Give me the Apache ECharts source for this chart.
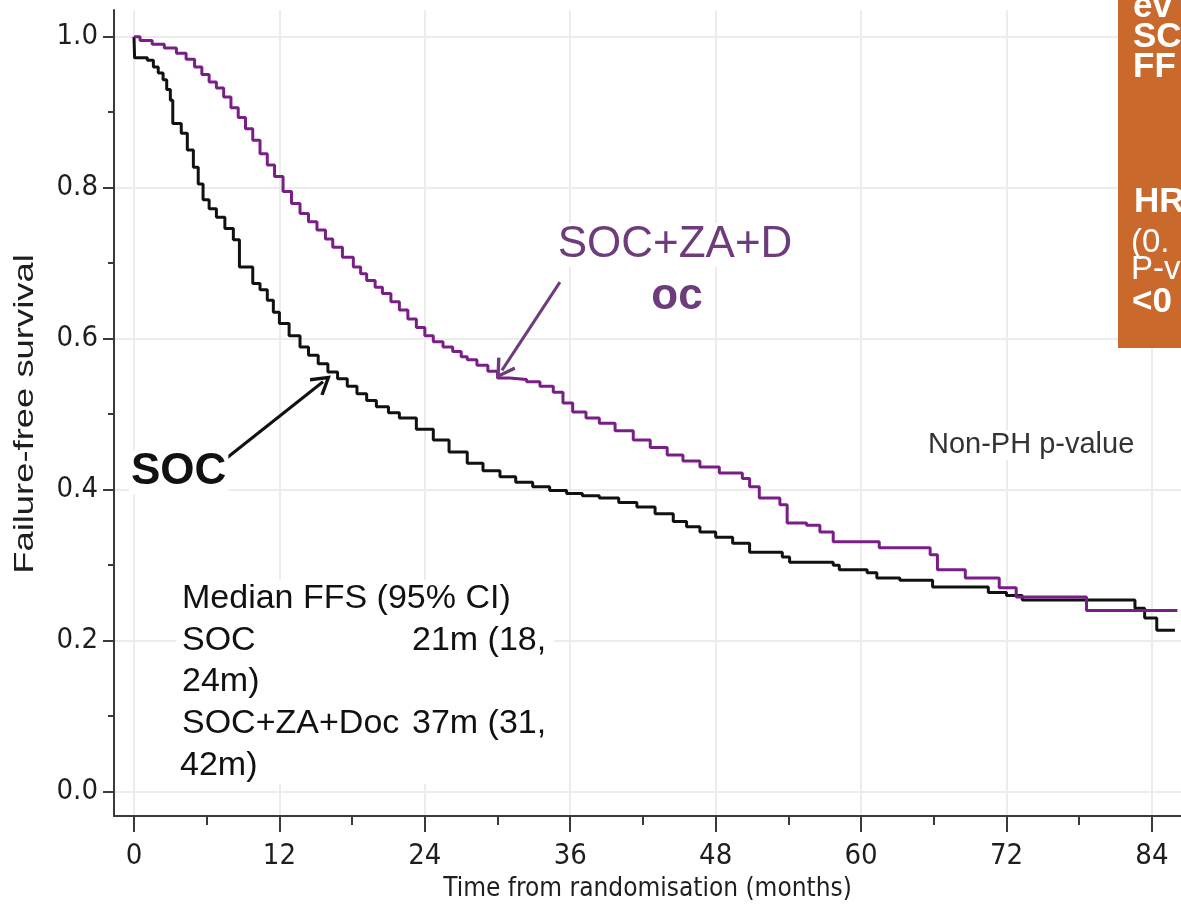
<!DOCTYPE html>
<html>
<head>
<meta charset="utf-8">
<title>Failure-free survival</title>
<script src="https://cdn.jsdelivr.net/npm/echarts@6/dist/echarts.min.js"></script>
<style>
  html, body { margin: 0; padding: 0; background: #ffffff; }
  #chart { width: 1181px; height: 910px; }
</style>
</head>
<body>
<div id="chart"></div>
<script>
// Kaplan-Meier estimates: time (months) and failure-free survival after each step
const socMonths = [0, 0.05, 1.1, 1.6, 2.0, 2.4, 2.7, 3.0, 3.2, 3.9, 4.4, 4.9, 5.3, 5.7, 6.2, 6.8, 7.5, 8.2, 8.7, 9.8,
  10.4, 11.0, 11.5, 12.0, 12.8, 13.7, 14.4, 15.2, 16.0, 16.8, 17.6, 18.4, 19.2, 20.0, 21.0, 21.9, 23.3, 24.7, 26.0,
  27.5, 28.8, 30.2, 31.5, 32.9, 34.3, 35.7, 37.0, 38.4, 40.0, 41.5, 43.0, 44.5, 45.6, 46.7, 48.0, 49.4, 50.8, 53.5,
  54.1, 57.7, 58.2, 60.5, 61.3, 63.2, 65.9, 70.5, 72.0, 73.3, 82.6, 83.4, 84.4, 85.9];
const socSurvival = [1.0, 0.972, 0.969, 0.960, 0.952, 0.943, 0.930, 0.916, 0.885, 0.872, 0.850, 0.827, 0.805, 0.784,
  0.772, 0.761, 0.746, 0.731, 0.695, 0.673, 0.665, 0.651, 0.635, 0.620, 0.604, 0.589, 0.578, 0.567, 0.556, 0.547,
  0.537, 0.527, 0.518, 0.510, 0.502, 0.495, 0.480, 0.466, 0.450, 0.435, 0.425, 0.417, 0.410, 0.404, 0.399, 0.395,
  0.392, 0.389, 0.383, 0.377, 0.368, 0.358, 0.351, 0.344, 0.337, 0.329, 0.317, 0.311, 0.304, 0.300, 0.294, 0.290,
  0.283, 0.280, 0.271, 0.264, 0.260, 0.254, 0.243, 0.230, 0.214, 0.214];

const docMonths = [0, 0.5, 1.5, 2.5, 3.5, 4.3, 5.0, 5.6, 6.2, 6.8, 7.4, 8.0, 8.6, 9.2, 9.8, 10.4, 11.0, 11.6, 12.3,
  13.0, 13.7, 14.4, 15.1, 15.8, 16.4, 17.2, 18.1, 18.7, 19.2, 19.9, 20.5, 21.2, 21.9, 22.6, 23.3, 24.0, 24.7, 25.5,
  26.3, 27.0, 27.5, 28.3, 29.2, 30.0, 31.0, 32.4, 33.5, 34.6, 35.4, 36.2, 37.3, 38.4, 39.7, 41.2, 42.6, 44.0, 45.3,
  46.7, 48.3, 50.2, 50.8, 51.6, 53.3, 53.9, 55.5, 56.6, 57.7, 61.5, 65.7, 66.3, 68.6, 71.4, 72.8, 78.6, 86.1];
const docSurvival = [1.0, 0.995, 0.990, 0.985, 0.978, 0.970, 0.960, 0.950, 0.940, 0.932, 0.920, 0.906, 0.893, 0.878,
  0.863, 0.845, 0.830, 0.815, 0.795, 0.779, 0.766, 0.755, 0.744, 0.732, 0.721, 0.708, 0.695, 0.686, 0.677, 0.668,
  0.660, 0.649, 0.638, 0.626, 0.615, 0.604, 0.596, 0.589, 0.583, 0.576, 0.572, 0.565, 0.557, 0.548, 0.546, 0.543,
  0.537, 0.529, 0.515, 0.503, 0.495, 0.488, 0.478, 0.466, 0.456, 0.446, 0.438, 0.430, 0.422, 0.415, 0.404, 0.389,
  0.380, 0.356, 0.353, 0.344, 0.331, 0.323, 0.314, 0.294, 0.283, 0.270, 0.258, 0.240, 0.240];

// Axis ticks
const xMajorTicks = [0, 12, 24, 36, 48, 60, 72, 84];
const xMinorTicks = [6, 18, 30, 42, 54, 66, 78];
const yMajorTicks = [0, 0.2, 0.4, 0.6, 0.8, 1.0];
const yMinorTicks = [0.1, 0.3, 0.5, 0.7, 0.9];

const zip = (xs, ys) => xs.map((x, i) => [x, ys[i]]);

const AXIS_COLOR = '#3a3a3a';
const GRID_COLOR = '#ececec';
const PURPLE = '#7a1e87';
const LABEL_PURPLE = '#6e3c7c';
const TICK_FONT = '"DejaVu Sans Condensed", "DejaVu Sans", sans-serif';
const TEXT_FONT = '"Liberation Sans", Arial, sans-serif';
const CHEVRON = 'path://M0,0 L12,17 L9,19 L0,6 L-9,19 L-12,17 Z';

const xRange = { min: -1.65, max: 86.4 };
const yRange = { min: -0.0322, max: 1.0354 };

// text placed on the plot, drawn over the grid on a white backing
function label(text, x, y, font, fill, align, extra) {
  return Object.assign({
    type: 'text', x: x, y: y, z: 50,
    style: { text: text, font: font, fill: fill, textAlign: align || 'left', textVerticalAlign: 'middle',
      backgroundColor: '#ffffff', padding: [0, 2] }
  }, extra || {});
}
function panelText(text, x, y, font) {
  return { type: 'text', x: x, y: y, z: 61,
    style: { text: text, font: font, fill: '#ffffff', textAlign: 'left', textVerticalAlign: 'middle' } };
}

const chart = echarts.init(document.getElementById('chart'), null, { renderer: 'canvas' });

chart.setOption({
  animation: false,
  backgroundColor: '#ffffff',
  grid: { left: 114, right: 0, top: 10, bottom: 94, containLabel: false },
  xAxis: [
    {
      type: 'value', gridIndex: 0, position: 'bottom', min: xRange.min, max: xRange.max,
      axisLine: { show: true, onZero: false, lineStyle: { color: AXIS_COLOR, width: 2 } },
      axisTick: { show: true, customValues: xMajorTicks, length: 16, lineStyle: { color: AXIS_COLOR, width: 2 } },
      axisLabel: { show: true, customValues: xMajorTicks, margin: 26, fontSize: 29,
        fontFamily: TICK_FONT, color: '#1e1e1e' },
      splitLine: { show: true, lineStyle: { color: GRID_COLOR, width: 2 } },
      name: 'Time from randomisation (months)', nameLocation: 'middle', nameGap: 51,
      nameTextStyle: { fontSize: 26, fontFamily: TICK_FONT, color: '#1e1e1e' }
    },
    {
      type: 'value', gridIndex: 0, position: 'bottom', min: xRange.min, max: xRange.max,
      axisLine: { show: false, onZero: false },
      axisTick: { show: true, customValues: xMinorTicks, length: 9, lineStyle: { color: AXIS_COLOR, width: 2 } },
      axisLabel: { show: false },
      splitLine: { show: false }
    }
  ],
  yAxis: [
    {
      type: 'value', gridIndex: 0, position: 'left', min: yRange.min, max: yRange.max,
      axisLine: { show: true, onZero: false, lineStyle: { color: AXIS_COLOR, width: 2 } },
      axisTick: { show: true, customValues: yMajorTicks, length: 11, lineStyle: { color: AXIS_COLOR, width: 2 } },
      axisLabel: { show: true, customValues: yMajorTicks, margin: 16, fontSize: 29,
        fontFamily: TICK_FONT, color: '#1e1e1e', formatter: v => v.toFixed(1) },
      splitLine: { show: true, lineStyle: { color: GRID_COLOR, width: 2 } }
    },
    {
      type: 'value', gridIndex: 0, position: 'left', min: yRange.min, max: yRange.max,
      axisLine: { show: false, onZero: false },
      axisTick: { show: true, customValues: yMinorTicks, length: 6, lineStyle: { color: AXIS_COLOR, width: 2 } },
      axisLabel: { show: false },
      splitLine: { show: false }
    }
  ],
  series: [
    {
      name: 'SOC', type: 'line', step: 'end', xAxisIndex: 0, yAxisIndex: 0,
      data: zip(socMonths, socSurvival), showSymbol: false, symbol: 'none',
      lineStyle: { color: '#111111', width: 3 }, z: 3,
      markLine: {
        silent: true, symbol: ['none', CHEVRON], symbolSize: [22, 20],
        label: { show: false },
        lineStyle: { color: '#111111', width: 3, type: 'solid' },
        data: [[{ coord: [7.26, 0.437] }, { coord: [15.6, 0.543] }]]
      }
    },
    {
      name: 'SOC+ZA+Doc', type: 'line', step: 'end', xAxisIndex: 0, yAxisIndex: 0,
      data: zip(docMonths, docSurvival), showSymbol: false, symbol: 'none',
      lineStyle: { color: PURPLE, width: 3 }, z: 4,
      markLine: {
        silent: true, symbol: ['none', CHEVRON], symbolSize: [22, 20],
        label: { show: false },
        lineStyle: { color: LABEL_PURPLE, width: 3, type: 'solid' },
        data: [[{ coord: [35.15, 0.675] }, { coord: [30.36, 0.558] }]]
      }
    }
  ],
  graphic: [
    // y-axis title
    { type: 'text', x: 25, y: 414, rotation: Math.PI / 2, scaleX: 1.3, z: 50,
      style: { text: 'Failure-free survival', font: '28px ' + TEXT_FONT, fill: '#1e1e1e',
        textAlign: 'center', textVerticalAlign: 'middle' } },
    // arm labels
    label('SOC+ZA+D', 675, 245, '44px ' + TEXT_FONT, LABEL_PURPLE, 'center'),
    label('oc', 677, 297, 'bold 44px ' + TEXT_FONT, LABEL_PURPLE, 'center'),
    label('SOC', 129, 472, 'bold 44px ' + TEXT_FONT, '#111111', 'left'),
    label('Non-PH p-value', 926, 445, '29px ' + TEXT_FONT, '#333333', 'left'),
    // median FFS summary on a white backing
    { type: 'rect', z: 45, shape: { x: 176, y: 580, width: 378, height: 204 }, style: { fill: '#ffffff' } },
    label('Median FFS (95% CI)', 180, 599, '34px ' + TEXT_FONT, '#111111'),
    label('SOC', 180, 641, '34px ' + TEXT_FONT, '#111111'),
    label('21m (18,', 410, 641, '34px ' + TEXT_FONT, '#111111'),
    label('24m)', 180, 682, '34px ' + TEXT_FONT, '#111111'),
    label('SOC+ZA+Doc', 180, 724, '34px ' + TEXT_FONT, '#111111'),
    label('37m (31,', 410, 724, '34px ' + TEXT_FONT, '#111111'),
    label('42m)', 178, 766, '34px ' + TEXT_FONT, '#111111'),
    // hazard ratio panel at the right edge
    { type: 'rect', z: 60, shape: { x: 1118, y: -10, width: 120, height: 358 }, style: { fill: '#c9692c' } },
    panelText('ev', 1133, 7, 'bold 35px ' + TEXT_FONT),
    panelText('SC', 1133, 37, 'bold 35px ' + TEXT_FONT),
    panelText('FF', 1133, 67, 'bold 35px ' + TEXT_FONT),
    panelText('HR', 1134, 202, 'bold 35px ' + TEXT_FONT),
    panelText('(0.', 1131, 243, '33px ' + TEXT_FONT),
    panelText('P-v', 1131, 270, '33px ' + TEXT_FONT),
    panelText('<0', 1132, 302, 'bold 35px ' + TEXT_FONT)
  ]
});
</script>
</body>
</html>
